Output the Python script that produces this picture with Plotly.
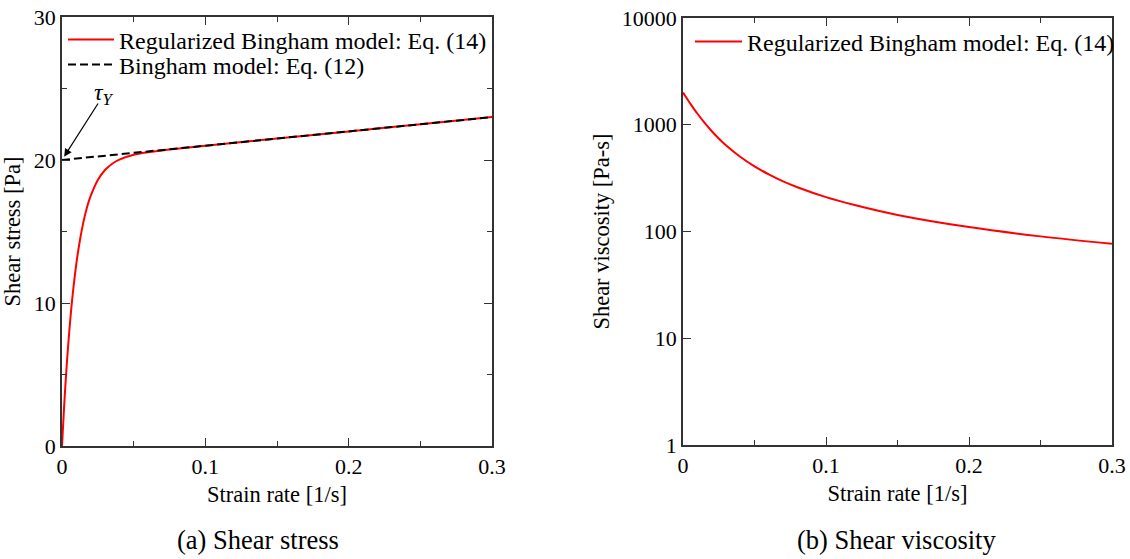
import plotly.graph_objects as go

# ---- data ----
strain_rate = [0, 0.0025, 0.005, 0.0075, 0.01, 0.0125, 0.015, 0.0175, 0.02, 0.025, 0.03,
               0.035, 0.04, 0.05, 0.06, 0.07, 0.08, 0.1, 0.15, 0.2, 0.25, 0.3]
stress_regularized = [0, 4.45, 7.92, 10.63, 12.74, 14.39, 15.69, 16.72, 17.49, 18.61, 19.30,
                      19.74, 20.03, 20.37, 20.55, 20.67, 20.79, 21.0, 21.5, 22.0, 22.5, 23.0]
bingham_rate = [0, 0.3]
bingham_stress = [20.0, 23.0]

visc_rate = [0, 0.0025, 0.005, 0.0075, 0.01, 0.015, 0.02, 0.025, 0.03, 0.04, 0.05, 0.06,
             0.07, 0.08, 0.1, 0.12, 0.15, 0.2, 0.25, 0.3]
viscosity = [2000, 1780, 1584, 1417, 1274, 1046, 874, 744, 643, 501, 407, 343,
             295, 260, 210, 177, 143, 110, 90, 76.7]

x_ticks = [0, 0.1, 0.2, 0.3]
x_ticklabels = ["0", "0.1", "0.2", "0.3"]
stress_ticks = [0, 10, 20, 30]
visc_ticks = [1, 10, 100, 1000, 10000]
visc_ticklabels = ["1", "10", "100", "1000", "10000"]
visc_minor_ticks = [m * d for d in (1, 10, 100, 1000) for m in range(2, 10)]

FONT = "Liberation Serif, Times New Roman, serif"
W, H = 1130, 559
AX = "#333333"

fig = go.Figure()

fig.add_trace(go.Scatter(x=strain_rate, y=stress_regularized, mode="lines",
                         line=dict(color="#ff0000", width=2, shape="spline"),
                         name="Regularized Bingham model: Eq. (14)",
                         xaxis="x", yaxis="y", legend="legend"))
fig.add_trace(go.Scatter(x=bingham_rate, y=bingham_stress, mode="lines",
                         line=dict(color="#000000", width=2, dash="8px,4px"),
                         name="Bingham model: Eq. (12)",
                         xaxis="x", yaxis="y", legend="legend3"))
fig.add_trace(go.Scatter(x=visc_rate, y=viscosity, mode="lines",
                         line=dict(color="#ff0000", width=2, shape="spline"),
                         name="Regularized Bingham model: Eq. (14)",
                         xaxis="x2", yaxis="y2", legend="legend2"))

axis_common = dict(showgrid=False, zeroline=False, showline=True, linecolor=AX,
                   linewidth=1.5, ticks="inside", ticklen=8, tickwidth=1.2, automargin=False,
                   tickcolor=AX, tickfont=dict(family=FONT, size=22, color="#000"),
                   title_font=dict(family=FONT, size=22.5, color="#000"))
minor_x = dict(tickvals=[0.05, 0.15, 0.25], ticks="inside", ticklen=5, tickcolor=AX)

L1, R1 = 62 / W, 492 / W
L2, R2 = 683 / W, 1112 / W
B1, T1 = 1 - 446 / H, 1 - 17 / H
B2, T2 = 1 - 445 / H, 1 - 18 / H

legend_font = dict(family=FONT, size=24, color="#000")

fig.update_layout(
    width=W, height=H, margin=dict(l=0, r=0, t=0, b=0, autoexpand=False),
    paper_bgcolor="white", plot_bgcolor="white",
    font=dict(family=FONT, size=22, color="#000"),
    xaxis=dict(axis_common, domain=[L1, R1], anchor="y", range=[0, 0.3],
               tickvals=x_ticks, ticktext=x_ticklabels, mirror="ticks", minor=minor_x,
               title=dict(text="Strain rate [1/s]", standoff=8), ticklabelstandoff=0),
    yaxis=dict(axis_common, domain=[B1, T1], anchor="x", range=[0, 30],
               tickvals=stress_ticks, mirror="ticks",
               minor=dict(tickvals=[5, 15, 25], ticks="inside", ticklen=5, tickcolor=AX),
               title=dict(text="Shear stress [Pa]", standoff=8), ticklabelstandoff=0),
    xaxis2=dict(axis_common, domain=[L2, R2], anchor="y2", range=[0, 0.3],
                tickvals=x_ticks, ticktext=x_ticklabels, mirror="ticks", minor=minor_x,
                title=dict(text="Strain rate [1/s]", standoff=8), ticklabelstandoff=0),
    yaxis2=dict(axis_common, domain=[B2, T2], anchor="x2", type="log", range=[0, 4],
                tickvals=visc_ticks, ticktext=visc_ticklabels, mirror=True,
                title=dict(text="Shear viscosity [Pa-s]", standoff=6), ticklabelstandoff=0),
    # helper axis carrying the minor log ticks of the viscosity plot
    yaxis3=dict(overlaying="y2", anchor="x2", side="left", type="log", range=[0, 4],
                tickmode="array", tickvals=visc_minor_ticks, showticklabels=False,
                ticks="inside", ticklen=5, tickwidth=1, tickcolor=AX,
                showgrid=False, zeroline=False, showline=False, automargin=False),
    legend=dict(x=63 / W, y=1 - 40 / H, xanchor="left", yanchor="middle",
                bgcolor="rgba(0,0,0,0)", font=legend_font, itemwidth=46),
    legend3=dict(x=63 / W, y=1 - 65 / H, xanchor="left", yanchor="middle",
                 bgcolor="rgba(0,0,0,0)", font=legend_font, itemwidth=46),
    legend2=dict(x=690 / W, y=1 - 42 / H, xanchor="left", yanchor="middle",
                 bgcolor="rgba(0,0,0,0)", font=legend_font, itemwidth=47),
    showlegend=True,
)

# yield stress annotation
fig.add_annotation(x=0, y=20, xref="x", yref="y", ax=37, ay=-58, text="",
                   showarrow=True, arrowhead=2, arrowsize=1.3, arrowwidth=1.2,
                   arrowcolor="#000", standoff=4)
fig.add_annotation(x=0.0293, y=24.6, xref="x", yref="y", text="<i>τ<sub>Y</sub></i>",
                   showarrow=False, font=dict(family=FONT, size=24, color="#000"))

# captions
fig.add_annotation(x=258 / W, y=1 - 540 / H, xref="paper", yref="paper",
                   xanchor="center", yanchor="middle",
                   text="(a) Shear stress", showarrow=False,
                   font=dict(family=FONT, size=26.5, color="#000"))
fig.add_annotation(x=896 / W, y=1 - 540 / H, xref="paper", yref="paper",
                   xanchor="center", yanchor="middle",
                   text="(b) Shear viscosity", showarrow=False,
                   font=dict(family=FONT, size=26.5, color="#000"))

fig.write_html("out.html", config={"displayModeBar": False},
               post_script="document.body.style.margin='0';document.body.style.padding='0';")
